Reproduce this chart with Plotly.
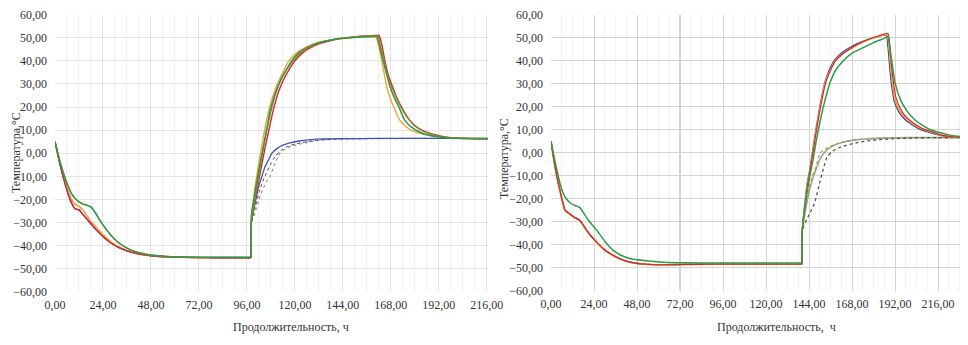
import plotly.graph_objects as go

# ---------------- data ----------------
# Left chart – common cooling phase shapes (0..98 h)
L_cool_t = [0, 2, 4, 6, 8, 10, 12, 14, 16, 18, 20, 24, 28, 32, 36, 40, 48, 56, 64, 72, 80, 90, 98]
L_coolA = [5, -3, -10, -16, -21, -24, -24.5, -26.5, -28.5, -30.5, -32.5, -36, -38.8, -40.8, -42.2, -43.2, -44.3, -44.8, -45, -45.1, -45.2, -45.2, -45.2]
L_coolB = [5, -2, -8, -13, -17, -19.5, -21, -22, -22.5, -23.2, -25.5, -31, -35.5, -38.8, -41, -42.5, -44, -44.6, -44.9, -45, -45, -45, -45]
L_coolC = [5, -2.5, -9, -15, -19.5, -22, -23, -24.5, -27, -29.5, -31.5, -35.2, -38.3, -40.5, -42, -43.2, -44.4, -44.9, -45, -45.1, -45.1, -45.1, -45.1]

# Left chart – heating/cooling after 98 h
L_red_t = [98.2, 100, 102.5, 105, 107, 109, 112, 115, 118, 120, 124, 128, 132, 136, 140, 145, 150, 155, 160, 162, 163.5, 165, 167, 169, 171, 173, 175, 177.5, 180, 184, 189, 195, 200, 205, 210, 216.5]
L_red_T = [-30, -21, -9, 2, 10, 18, 27, 33, 37.5, 40, 43.5, 45.8, 47.3, 48.3, 49.2, 49.8, 50.3, 50.7, 50.9, 51.0, 47, 40, 33, 28.5, 24, 20.5, 17.5, 14.2, 12, 9.8, 8.2, 7.0, 6.6, 6.4, 6.3, 6.3]
L_olive_t = [98.2, 100, 102, 104, 106, 108, 110.5, 113.5, 116.5, 119, 123, 127, 131, 135, 140, 145, 150, 155, 160, 161.5, 163, 165, 167, 169, 171, 173, 175, 177.5, 180, 184, 189, 195, 200, 205, 210, 216.5]
L_olive_T = [-30, -20, -9, 1, 10, 18, 26, 32.5, 37, 40, 43.5, 45.8, 47.3, 48.4, 49.3, 49.9, 50.3, 50.6, 50.7, 50.7, 46, 38.5, 31.5, 27.5, 23.5, 20.0, 17.0, 14.0, 11.8, 9.6, 8.0, 7.0, 6.6, 6.4, 6.3, 6.3]
L_green_t = [98.2, 100, 102, 104, 106, 107.5, 110, 113, 116, 118.5, 122, 126, 130, 135, 140, 145, 150, 155, 160, 161, 163, 165, 167.5, 170, 172, 175, 178, 182, 187, 195, 200, 205, 216.5]
L_green_T = [-27, -17, -7, 2, 11, 18, 25.5, 32, 36.5, 40, 43.5, 45.7, 47.2, 48.4, 49.3, 49.9, 50.2, 50.4, 50.5, 50.5, 44, 37, 29, 23.5, 20, 14.2, 11.5, 9.3, 7.8, 6.8, 6.5, 6.4, 6.3]
L_orange_t = [98.2, 100, 102, 104, 106, 108, 111, 114, 117, 121, 125, 129, 133, 138, 144, 150, 155, 159, 160.5, 162, 164, 166, 168, 170, 172.5, 175, 178, 184, 190, 200, 210, 216.5]
L_orange_T = [-30, -15, -4, 6, 15, 22, 29.5, 35, 40, 43.5, 45.7, 47.2, 48.2, 49.0, 49.6, 50.0, 50.2, 50.3, 50.3, 46, 37.5, 28.5, 23, 19, 14.2, 12, 10, 8.3, 7.3, 6.6, 6.4, 6.3]
L_blue_t = [98.2, 100, 102, 103.5, 105, 107, 108.5, 111, 114, 117.5, 122, 128, 134, 145, 160, 180, 216.5]
L_blue_T = [-30, -22, -14, -10, -6, -2.5, 0, 2, 3.5, 4.5, 5.3, 5.9, 6.2, 6.3, 6.4, 6.4, 6.4]
L_gray_t = [98.2, 100, 102, 104, 106, 107.5, 110, 112.5, 115, 118, 124, 130, 136, 145, 160, 180, 216.5]
L_gray_T = [-30, -26, -20, -15.5, -12, -10, -4.5, 0, 1.8, 3, 4.3, 5.3, 5.9, 6.2, 6.3, 6.4, 6.4]
L_dark_t = [98.2, 100, 102, 104, 106, 108, 110, 113, 116, 120, 126, 132, 140, 150, 170, 216.5]
L_dark_T = [-30, -24, -17, -12, -8, -4.5, -1.5, 1.2, 2.8, 4.0, 5.0, 5.7, 6.1, 6.3, 6.4, 6.4]

# Right chart – cooling phase (0..140 h)
R_cool_t = [0, 2, 4, 5, 7, 7.8, 9, 11, 13.4, 16, 18, 21, 25.6, 30, 34.6, 39, 44, 53, 62.5, 75, 90, 100, 120, 140]
R_coolA = [5, -5, -13, -16.5, -23, -25, -25.8, -27, -28.3, -29.4, -31.5, -35, -39, -42.3, -44.6, -46.3, -47.6, -48.5, -48.7, -48.6, -48.5, -48.5, -48.5, -48.5]
R_coolB = [5, -3, -10, -13.4, -18, -19.2, -20.5, -22, -23, -23.8, -26, -29.5, -33.8, -38.5, -42.4, -44.6, -46, -47, -47.6, -47.9, -48, -48, -48, -48]

# Right chart – heating/cooling after 140 h
R_orange_t = [140.2, 141.5, 143, 144.5, 146, 148, 150, 151.5, 153, 155, 158.5, 163, 168, 173, 178, 183, 187.5, 188.5, 189.5, 190.5, 192, 194.7, 198, 202, 207, 213, 218, 224, 232.7]
R_orange_T = [-34, -24, -14, -7.8, 0, 10, 19, 25, 30.3, 34.5, 39.8, 43, 45.5, 47.6, 49.3, 50.5, 51.3, 47, 38, 30.3, 23, 18, 15, 12.5, 10.3, 8.7, 7.5, 6.8, 6.5]
R_red_t = [140.2, 141.5, 143, 144.5, 146, 148, 150, 151.5, 153, 155, 158.5, 163, 168, 173, 178, 183, 188, 189, 190, 191, 192.5, 195, 198, 202, 207, 213, 218, 224, 232.7]
R_red_T = [-34, -25, -15, -8.5, -1, 9, 18, 24, 29.5, 34, 39.5, 43, 45.7, 47.8, 49.5, 50.8, 51.8, 47, 38, 31, 24, 19, 15.6, 13, 10.6, 8.9, 7.6, 6.9, 6.5]
R_navy_t = [140.2, 141.5, 143, 144.5, 146, 148, 150, 151.5, 153, 155, 158.5, 163, 168, 173, 178, 183, 187, 188, 189, 190, 191.5, 194, 197, 201, 206, 212, 218, 224, 232.7]
R_navy_T = [-34, -23, -13, -7, 1, 11, 20, 26, 31, 35.5, 40.5, 43.8, 46.2, 48.0, 49.4, 50.5, 51.0, 46, 37, 29.5, 22.5, 17.8, 14.8, 12.3, 10.1, 8.6, 7.4, 6.8, 6.5]
R_green_t = [140.2, 142, 144.5, 146, 148, 150, 152, 155.7, 159, 163, 168, 174, 180, 185, 188, 189, 190.5, 192, 195, 198.7, 203, 207.6, 212, 217, 222, 227, 232.7]
R_green_T = [-34, -22, -10, -4, 5, 13, 20, 30.3, 36, 39.8, 43.2, 45.5, 47.8, 49.3, 50.3, 46, 38, 30.3, 23, 18, 14.3, 11.7, 9.8, 8.7, 7.7, 7.1, 6.7]
R_gray_t = [140.2, 142, 144, 146, 148, 150, 153, 156, 159.6, 165, 170, 178, 190, 210, 232.7]
R_gray_T = [-34, -24, -15, -10, -6, -0.4, 1.5, 2.8, 3.9, 5.0, 5.6, 6.1, 6.4, 6.5, 6.5]
R_dark_t = [140.2, 144, 147, 150, 152, 154, 157, 161, 168.5, 175, 183, 191, 200, 215, 232.7]
R_dark_T = [-34, -27, -22, -13, -7, -2, 0.5, 2.2, 3.9, 4.9, 5.6, 6.0, 6.3, 6.5, 6.5]
R_olive_t = [140.2, 142, 144, 146, 148, 150, 152, 155, 158, 162, 168, 175, 185, 200, 232.7]
R_olive_T = [-34, -25, -17, -11.5, -7, -3, -0.5, 1.8, 3.2, 4.3, 5.3, 5.9, 6.3, 6.5, 6.5]

# Axis tick values
x_ticks = [0, 24, 48, 72, 96, 120, 144, 168, 192, 216]
y_ticks = [-60, -50, -40, -30, -20, -10, 0, 10, 20, 30, 40, 50, 60]

# ---------------- colours ----------------
RED = "#d9232a"
GREEN = "#2e9a46"
ORANGE = "#f2a33a"
BLUE = "#4252b8"
NAVY = "#3b3f8f"
OLIVE = "#8e8a3a"
KHAKI = "#a3a86e"
GRAY = "#9a9a9a"
DARK = "#4a4a4a"
FONT = "Liberation Serif, 'Times New Roman', 'DejaVu Serif', serif"

fig = go.Figure()


def add(cool_t, cool_T, heat_t, heat_T, color, axis, width=1.4, dash="solid"):
    line = dict(color=color, width=width, dash=dash, shape="spline", smoothing=0.6)
    # cooling part
    fig.add_trace(go.Scatter(x=cool_t, y=cool_T, mode="lines", xaxis="x" + axis, yaxis="y" + axis,
                             line=line, hoverinfo="skip", showlegend=False))
    # heating part, starting at the last cooling sample (sharp corner at the jump)
    fig.add_trace(go.Scatter(x=[cool_t[-1]] + heat_t, y=[cool_T[-1]] + heat_T, mode="lines",
                             xaxis="x" + axis, yaxis="y" + axis,
                             line=line, hoverinfo="skip", showlegend=False))


# ---- Left chart ----
ax = ""
add(L_cool_t, L_coolC, L_gray_t, L_gray_T, GRAY, ax, 1.3, "dot")
add(L_cool_t, L_coolA, L_dark_t, L_dark_T, DARK, ax, 1.0, "dot")
add(L_cool_t, L_coolA, L_blue_t, L_blue_T, BLUE, ax, 1.3)
add(L_cool_t, L_coolC, L_orange_t, L_orange_T, ORANGE, ax, 1.4)
add(L_cool_t, L_coolA, L_red_t, L_red_T, RED, ax, 1.4)
add(L_cool_t, L_coolB, L_olive_t, L_olive_T, OLIVE, ax, 1.3)
add(L_cool_t, L_coolB, L_green_t, L_green_T, GREEN, ax, 1.5)

# ---- Right chart ----
ax = "2"
add(R_cool_t, R_coolA, R_olive_t, R_olive_T, KHAKI, ax, 1.6)
add(R_cool_t, R_coolA, R_gray_t, R_gray_T, GRAY, ax, 1.3, "dot")
add(R_cool_t, R_coolA, R_dark_t, R_dark_T, DARK, ax, 1.2, "dot")
add(R_cool_t, R_coolA, R_navy_t, R_navy_T, NAVY, ax, 1.2)
add(R_cool_t, R_coolA, R_orange_t, R_orange_T, ORANGE, ax, 1.5)
add(R_cool_t, R_coolA, R_red_t, R_red_T, RED, ax, 1.1)
add(R_cool_t, R_coolB, R_green_t, R_green_T, GREEN, ax, 1.5)

W, H = 968, 345
OFF = 8  # page body margin of the written html


def px(v):
    return (v - OFF) / W


def py(v):
    return 1 - (v - OFF) / H


tickfont = dict(family=FONT, size=12, color="#333333")
xcommon = dict(tickvals=x_ticks, tickformat=".2f", tickfont=tickfont, showline=False,
               zeroline=False, ticks="", ticklabelstandoff=4, automargin=False,
               ticklabeloverflow="allow",
               minor=dict(dtick=6, showgrid=True, gridcolor="#f0f0f0", gridwidth=1))
ycommon = dict(tickvals=y_ticks, tickformat=".2f", tickfont=tickfont, showline=False,
               zeroline=False, ticks="", range=[-60, 60], ticklabelstandoff=7, automargin=False,
               ticklabeloverflow="allow")

titlefont = dict(family=FONT, size=12, color="#333333")

fig.update_layout(
    width=W, height=H, margin=dict(l=0, r=0, t=0, b=0, autoexpand=False),
    paper_bgcolor="white", plot_bgcolor="white", separators=", ",
    font=dict(family=FONT),
    xaxis=dict(domain=[px(55), px(488)], range=[0, 216.6], anchor="y",
               gridcolor="#e4e4e4", **xcommon),
    yaxis=dict(domain=[py(292), py(14.5)], anchor="x", gridcolor="#e4e4e4", **ycommon),
    xaxis2=dict(domain=[px(551), px(968)], range=[0, 232.7], anchor="y2",
                gridcolor="#d4d4d4", **xcommon),
    yaxis2=dict(domain=[py(290.7), py(14.5)], anchor="x2", gridcolor="#d4d4d4", **ycommon),
    shapes=[
        dict(type="line", xref="x2", yref="y2", x0=72, x1=72, y0=-60, y1=60,
             line=dict(color="#a8a8a8", width=1), layer="below"),
        dict(type="line", xref="x2", yref="y2", x0=0, x1=232.7, y0=30, y1=30,
             line=dict(color="#a8a8a8", width=1), layer="below"),
    ],
    annotations=[
        dict(text="Температура,°С", x=px(16), y=py(153), xref="paper", yref="paper",
             xanchor="center", yanchor="middle", textangle=-90, showarrow=False, font=titlefont),
        dict(text="Температура,°С", x=px(504), y=py(158), xref="paper", yref="paper",
             xanchor="center", yanchor="middle", textangle=-90, showarrow=False, font=titlefont),
        dict(text="Продолжительность, ч", x=px(291), y=py(327), xref="paper", yref="paper",
             xanchor="center", yanchor="middle", showarrow=False, font=titlefont),
        dict(text="Продолжительность,  ч", x=px(776), y=py(327), xref="paper", yref="paper",
             xanchor="center", yanchor="middle", showarrow=False, font=titlefont),
    ],
)

fig.write_html("out.html")
